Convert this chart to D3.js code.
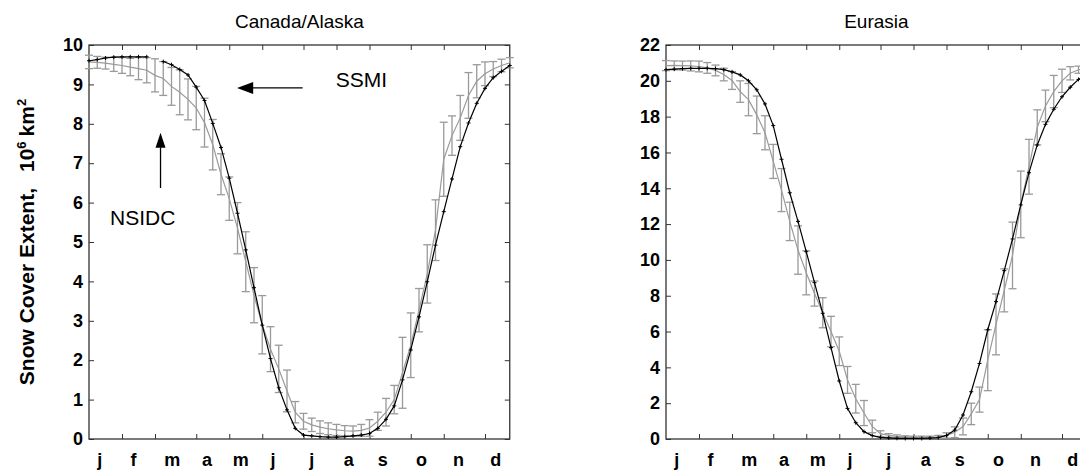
<!DOCTYPE html>
<html>
<head>
<meta charset="utf-8">
<script src="https://cdn.jsdelivr.net/npm/d3@7"></script>
<style>
body{margin:0;background:#fff;}
svg{display:block;font-family:"Liberation Sans",Arial,sans-serif;}
</style>
</head>
<body>
<div id="container"></div>
<script>
let w = 1080;
let h = 470;
let top_y = 45;
let bottom_y = 439;
let plotWidth = 420.75;

let weeks = [1,2,3,4,5,6,7,8,9,10,11,12,13,14,15,16,17,18,19,20,21,22,23,24,25,26,
  27,28,29,30,31,32,33,34,35,36,37,38,39,40,41,42,43,44,45,46,47,48,49,50,51,52];
let monthNames = ["j","f","m","a","m","j","j","a","s","o","n","d"];
let monthTickWeeks = [5,9,14,18,22,27,31,35,40,44,49];
let monthLabelWeeks = [2.3,6.4,11.1,15.3,19.4,23.3,28,32.5,36.6,41.3,45.8,50.3];

// Canada/Alaska, 10^6 km^2
let canadaSSMI = [9.60,9.63,9.67,9.69,9.70,9.70,9.70,9.70,null,9.58,9.50,9.38,9.24,8.93,8.59,8.01,
  7.40,6.62,5.73,4.80,3.84,2.89,2.04,1.30,0.74,0.27,0.10,0.08,0.06,0.05,0.05,0.06,0.08,0.10,0.14,
  0.27,0.50,0.84,1.50,2.26,3.10,3.99,4.92,5.77,6.60,7.42,8.02,8.52,8.90,9.17,9.33,9.48];
let canadaNSIDC = [9.57,9.56,9.54,9.51,9.48,9.44,9.40,9.36,9.23,9.15,8.95,8.80,8.62,8.40,8.03,7.47,
  6.72,6.10,5.35,4.50,3.65,2.90,2.28,1.78,1.22,0.68,0.45,0.36,0.30,0.26,0.23,0.21,0.20,0.22,0.28,
  0.45,0.68,1.00,1.68,2.38,3.27,4.19,5.30,7.10,7.70,8.15,8.72,9.08,9.27,9.39,9.48,9.55];
let canadaErr = [0.17,0.15,0.15,0.18,0.20,0.22,0.28,0.32,0.42,0.43,0.48,0.57,0.52,0.55,0.62,0.64,
  0.52,0.55,0.65,0.76,0.70,0.74,0.57,0.60,0.53,0.27,0.20,0.17,0.16,0.15,0.14,0.13,0.13,0.15,0.21,
  0.23,0.35,0.36,0.90,0.82,0.55,0.74,0.77,0.94,0.50,0.57,0.58,0.42,0.30,0.19,0.16,0.13];

// Eurasia
let eurasiaSSMI = [20.62,20.65,20.68,20.70,20.70,20.70,20.68,20.62,20.50,20.33,20.00,19.50,18.71,
  17.50,15.62,13.75,12.15,10.46,8.73,7.02,5.10,3.24,1.71,0.91,0.41,0.19,0.09,0.06,0.04,0.03,0.03,
  0.03,0.05,0.08,0.20,0.50,1.34,2.64,4.22,6.10,7.67,9.40,11.17,13.07,14.87,16.42,17.57,18.41,
  19.11,19.64,20.08,20.35];
let eurasiaNSIDC = [20.85,20.86,20.85,20.83,20.80,20.72,20.58,20.35,20.02,19.40,18.95,18.10,17.10,
  15.50,13.90,12.15,10.55,9.28,8.12,7.05,6.00,4.90,3.30,2.25,1.45,0.70,0.30,0.20,0.15,0.12,0.10,
  0.10,0.10,0.12,0.20,0.38,0.70,1.40,2.20,4.40,6.40,8.30,10.25,13.10,15.20,17.40,18.60,19.40,
  20.00,20.42,20.62,20.72];
let eurasiaErr = [0.28,0.25,0.25,0.28,0.30,0.30,0.30,0.35,0.50,0.60,0.90,1.05,0.95,0.95,1.20,1.07,
  1.35,1.23,0.70,0.84,0.85,0.80,0.75,0.80,0.70,0.35,0.16,0.10,0.08,0.06,0.06,0.06,0.06,0.08,0.15,
  0.30,0.47,0.60,0.70,1.70,1.70,1.20,1.86,1.86,1.53,0.98,0.88,0.90,0.65,0.37,0.20,0.15];

let canadaTicks = [0,1,2,3,4,5,6,7,8,9,10];
let eurasiaTicks = [0,2,4,6,8,10,12,14,16,18,20,22];

let viz = d3.select("#container").append("svg")
  .attr("width", w)
  .attr("height", h);

let axisColor = "#333";
let grayColor = "#9a9a9a";

function drawPanel(x0, title, yMax, yTicks, ssmi, nsidc, err) {
  let xScale = d3.scaleLinear().domain([1,52]).range([x0, x0 + plotWidth]);
  let yScale = d3.scaleLinear().domain([0,yMax]).range([bottom_y, top_y]);

  let g = viz.append("g");

  // axes, ticks pointing inward on all four sides
  let leftAxis = g.append("g").attr("transform","translate("+x0+",0)")
    .call(d3.axisLeft(yScale).tickValues(yTicks).tickSize(-5).tickPadding(6).tickFormat(d3.format("d")));
  leftAxis.selectAll("text").style("font-size","18px").style("font-weight","bold").attr("fill","#000");
  g.append("g").attr("transform","translate("+(x0+plotWidth)+",0)")
    .call(d3.axisRight(yScale).tickValues(yTicks).tickSize(-5).tickFormat(""));
  g.append("g").attr("transform","translate(0,"+bottom_y+")")
    .call(d3.axisBottom(xScale).tickValues(monthTickWeeks).tickSize(-5).tickFormat(""));
  g.append("g").attr("transform","translate(0,"+top_y+")")
    .call(d3.axisTop(xScale).tickValues(monthTickWeeks).tickSize(-5).tickFormat(""));
  g.selectAll(".domain").remove();
  g.selectAll(".tick line").attr("stroke",axisColor);

  g.append("rect")
    .attr("x",x0).attr("y",top_y)
    .attr("width",plotWidth).attr("height",bottom_y-top_y)
    .attr("fill","none").attr("stroke",axisColor).attr("stroke-width",1.3);

  g.selectAll(".month").data(monthNames).enter().append("text")
    .attr("x",function(d,i){ return xScale(monthLabelWeeks[i]); })
    .attr("y",466)
    .attr("text-anchor","middle")
    .style("font-size","18px").style("font-weight","bold")
    .text(function(d){ return d; });

  g.append("text")
    .attr("x",x0 + plotWidth/2).attr("y",28)
    .attr("text-anchor","middle")
    .style("font-size","19px")
    .text(title);

  let rows = weeks.map(function(wk,i){
    return {week: wk, ssmi: ssmi[i], nsidc: nsidc[i], err: err[i]};
  });

  // NSIDC error bars
  let bars = g.append("g").attr("stroke",grayColor).attr("stroke-width",1.3);
  bars.selectAll(".eb").data(rows).enter().append("line")
    .attr("x1",function(d){ return xScale(d.week); })
    .attr("x2",function(d){ return xScale(d.week); })
    .attr("y1",function(d){ return yScale(d.nsidc + d.err); })
    .attr("y2",function(d){ return yScale(Math.max(0,d.nsidc - d.err)); });
  bars.selectAll(".capTop").data(rows).enter().append("line")
    .attr("x1",function(d){ return xScale(d.week) - 4; })
    .attr("x2",function(d){ return xScale(d.week) + 4; })
    .attr("y1",function(d){ return yScale(d.nsidc + d.err); })
    .attr("y2",function(d){ return yScale(d.nsidc + d.err); });
  bars.selectAll(".capBot").data(rows).enter().append("line")
    .attr("x1",function(d){ return xScale(d.week) - 4; })
    .attr("x2",function(d){ return xScale(d.week) + 4; })
    .attr("y1",function(d){ return yScale(Math.max(0,d.nsidc - d.err)); })
    .attr("y2",function(d){ return yScale(Math.max(0,d.nsidc - d.err)); });

  let nsidcLine = d3.line()
    .x(function(d){ return xScale(d.week); })
    .y(function(d){ return yScale(d.nsidc); });
  g.append("path").datum(rows)
    .attr("d",nsidcLine)
    .attr("fill","none").attr("stroke",grayColor).attr("stroke-width",1.2);

  let ssmiLine = d3.line()
    .defined(function(d){ return d.ssmi !== null; })
    .x(function(d){ return xScale(d.week); })
    .y(function(d){ return yScale(d.ssmi); });
  g.append("path").datum(rows)
    .attr("d",ssmiLine)
    .attr("fill","none").attr("stroke","#000").attr("stroke-width",1.2);

  // small + markers on SSMI
  let pts = rows.filter(function(d){ return d.ssmi !== null; });
  g.selectAll(".plus").data(pts).enter().append("path")
    .attr("d",function(d){
      let x = xScale(d.week), y = yScale(d.ssmi);
      return "M"+(x-2)+","+y+"H"+(x+2)+"M"+x+","+(y-2)+"V"+(y+2);
    })
    .attr("stroke","#000").attr("stroke-width",1);

  return {x: xScale, y: yScale};
}

let left = drawPanel(89, "Canada/Alaska", 10, canadaTicks, canadaSSMI, canadaNSIDC, canadaErr);
let right = drawPanel(666, "Eurasia", 22, eurasiaTicks, eurasiaSSMI, eurasiaNSIDC, eurasiaErr);

// annotations on the left panel
viz.append("line")
  .attr("x1",left.x(26.9)).attr("y1",left.y(8.91))
  .attr("x2",left.x(20.8)).attr("y2",left.y(8.91))
  .attr("stroke","#000").attr("stroke-width",1.3);
viz.append("path")
  .attr("d","M"+left.x(18.94)+","+left.y(8.91)+"L"+left.x(20.9)+","+(left.y(8.91)-6)+"L"+left.x(20.9)+","+(left.y(8.91)+6)+"Z")
  .attr("fill","#000");
viz.append("text")
  .attr("x",left.x(30.9)).attr("y",left.y(8.93))
  .style("font-size","21px")
  .text("SSMI");

viz.append("line")
  .attr("x1",left.x(9.67)).attr("y1",left.y(6.37))
  .attr("x2",left.x(9.67)).attr("y2",left.y(7.4))
  .attr("stroke","#000").attr("stroke-width",1.3);
viz.append("path")
  .attr("d","M"+left.x(9.67)+","+left.y(7.77)+"L"+(left.x(9.67)-5)+","+left.y(7.39)+"L"+(left.x(9.67)+5)+","+left.y(7.39)+"Z")
  .attr("fill","#000");
viz.append("text")
  .attr("x",left.x(3.55)).attr("y",left.y(5.43))
  .style("font-size","21px")
  .text("NSIDC");

// y axis title
let ylab = viz.append("text")
  .attr("transform","translate(34,242) rotate(-90)")
  .attr("text-anchor","middle")
  .style("font-size","21px").style("font-weight","bold");
ylab.append("tspan").text("Snow Cover Extent,");
ylab.append("tspan").attr("dx",16).text("10");
ylab.append("tspan").attr("dy",-8).style("font-size","13px").text("6");
ylab.append("tspan").attr("dy",8).attr("dx",5).text("km");
ylab.append("tspan").attr("dy",-8).style("font-size","13px").text("2");
</script>
</body>
</html>
